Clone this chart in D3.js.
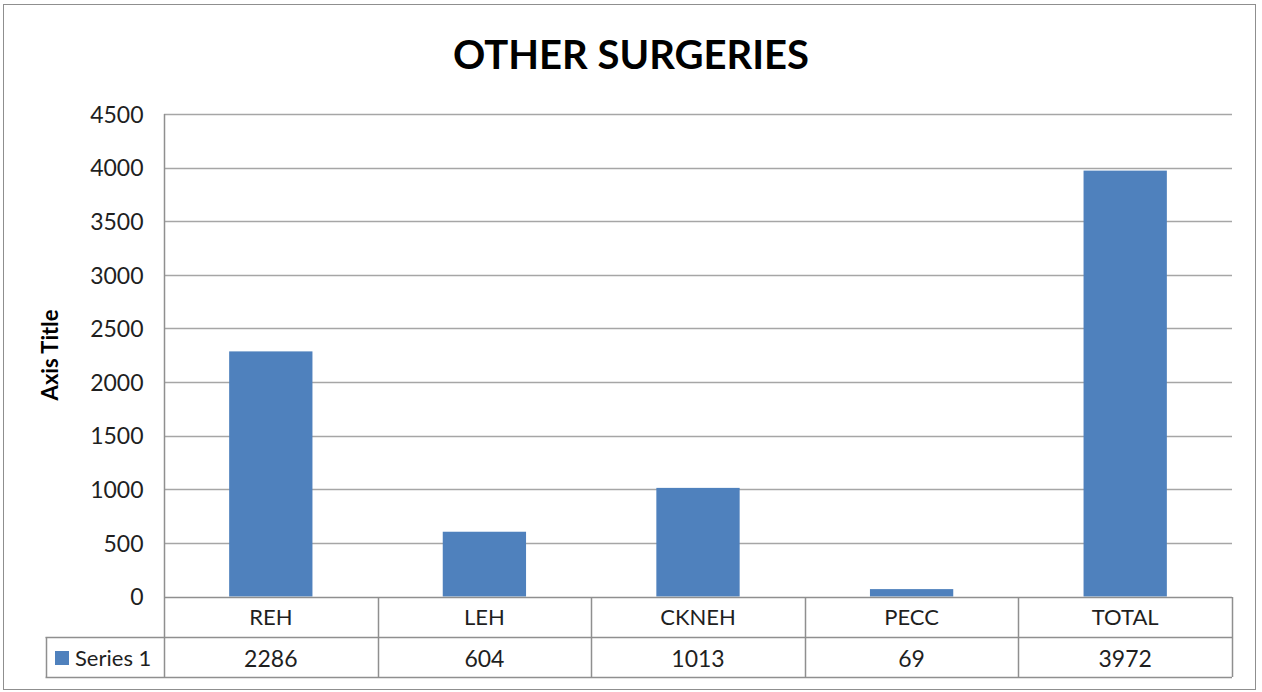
<!DOCTYPE html>
<html>
<head>
<meta charset="utf-8">
<script src="https://cdn.jsdelivr.net/npm/d3@7"></script>
<style>
  body { margin: 0; background: #fff; }
  text { font-family: Lato, "Open Sans", sans-serif; fill: #1f1f1f; }
</style>
</head>
<body>
<svg id="chart"></svg>
<script>
//-------------------------------------------------
// Data
//-------------------------------------------------
var categories = ["REH", "LEH", "CKNEH", "PECC", "TOTAL"];
var values = [2286, 604, 1013, 69, 3972];
var yTicks = [0, 500, 1000, 1500, 2000, 2500, 3000, 3500, 4000, 4500];
var seriesName = "Series 1";
//-------------------------------------------------

var W = 1262, H = 692;
var barColor = "#4f81bd";
var gridColor = "#a6a6a6";
var lineColor = "#8f8f8f";

// plot area (note: "top" is a reserved window global, so use other names)
var plotLeft = 164, plotRight = 1232, plotTop = 114, plotBottom = 596.5;
var rowH = 40;

var svg = d3.select("#chart")
  .attr("width", W)
  .attr("height", H);

// outer frame
svg.append("rect")
  .attr("x", 3.5).attr("y", 4.5)
  .attr("width", 1252).attr("height", 685)
  .attr("fill", "#fff")
  .attr("stroke", lineColor);

var x = d3.scaleBand().domain(categories).range([plotLeft, plotRight]).padding(0);
var y = d3.scaleLinear().domain([0, 4500]).range([plotBottom, plotTop]);

// title
svg.append("text")
  .attr("x", 631).attr("y", 69)
  .attr("text-anchor", "middle")
  .style("font-size", "40px")
  .style("font-weight", "bold")
  .style("fill", "#000")
  .text("OTHER SURGERIES");

// gridlines
svg.append("g")
  .selectAll("line")
  .data(yTicks.filter(function(d){ return d > 0; }))
  .enter()
  .append("line")
  .attr("x1", plotLeft).attr("x2", plotRight)
  .attr("y1", function(d){ return Math.round(y(d)) + 0.5; })
  .attr("y2", function(d){ return Math.round(y(d)) + 0.5; })
  .attr("stroke", gridColor)
  .attr("stroke-width", 1.3);

// y axis via d3 axis, then restyle
var yAxis = svg.append("g")
  .attr("transform", "translate(" + (plotLeft + 0.5) + ",0)")
  .call(d3.axisLeft(y).tickValues(yTicks).tickSize(0).tickPadding(21).tickFormat(d3.format("d")));
yAxis.select(".domain").remove();
yAxis.selectAll("text")
  .style("font-size", "23px")
  .style("font-family", "Lato, sans-serif")
  .attr("fill", "#1f1f1f")
  .attr("dy", "0.36em");

// axis title
svg.append("text")
  .attr("transform", "translate(58,355) rotate(-90)")
  .attr("text-anchor", "middle")
  .style("font-size", "22px")
  .style("font-weight", "bold")
  .style("fill", "#000")
  .text("Axis Title");

// bars
var barW = x.bandwidth() * 0.39;
svg.append("g")
  .selectAll("rect")
  .data(values)
  .enter()
  .append("rect")
  .attr("x", function(d, i){ return x(categories[i]) + (x.bandwidth() - barW) / 2; })
  .attr("y", function(d){ return y(d); })
  .attr("width", barW)
  .attr("height", function(d){ return y(0) - y(d); })
  .attr("fill", barColor);

// data table
var table = svg.append("g").attr("class", "table");
var tTop = plotBottom + 0.5;
var tableLeft = 45.5;

function hline(x1, x2, yy) {
  table.append("line")
    .attr("x1", x1).attr("x2", x2)
    .attr("y1", Math.round(yy) + 0.5).attr("y2", Math.round(yy) + 0.5)
    .attr("stroke", lineColor).attr("stroke-width", 1.5);
}
function vline(xx, y1, y2) {
  table.append("line")
    .attr("x1", Math.round(xx) + 0.5).attr("x2", Math.round(xx) + 0.5)
    .attr("y1", y1).attr("y2", y2)
    .attr("stroke", lineColor).attr("stroke-width", 1.5);
}

hline(plotLeft, plotRight, tTop);
hline(tableLeft, plotRight, tTop + rowH);
hline(tableLeft, plotRight, tTop + rowH * 2);
vline(plotLeft, plotTop, tTop + rowH * 2);
vline(tableLeft, tTop + rowH, tTop + rowH * 2);
categories.forEach(function(c){
  vline(x(c) + x.bandwidth(), tTop, tTop + rowH * 2);
});

// category labels
table.selectAll(".cat")
  .data(categories)
  .enter()
  .append("text")
  .attr("class", "cat")
  .attr("x", function(d){ return x(d) + x.bandwidth() / 2; })
  .attr("y", tTop + 28)
  .attr("text-anchor", "middle")
  .style("font-size", "22px")
  .text(function(d){ return d; });

// values row
table.selectAll(".val")
  .data(values)
  .enter()
  .append("text")
  .attr("class", "val")
  .attr("x", function(d, i){ return x(categories[i]) + x.bandwidth() / 2; })
  .attr("y", tTop + rowH + 30)
  .attr("text-anchor", "middle")
  .style("font-size", "23px")
  .text(function(d){ return d; });

// legend key
table.append("rect")
  .attr("x", 55).attr("y", 651)
  .attr("width", 14).attr("height", 14)
  .attr("fill", barColor);
table.append("text")
  .attr("x", 75).attr("y", tTop + rowH + 29)
  .style("font-size", "22px")
  .text(seriesName);
</script>
</body>
</html>
